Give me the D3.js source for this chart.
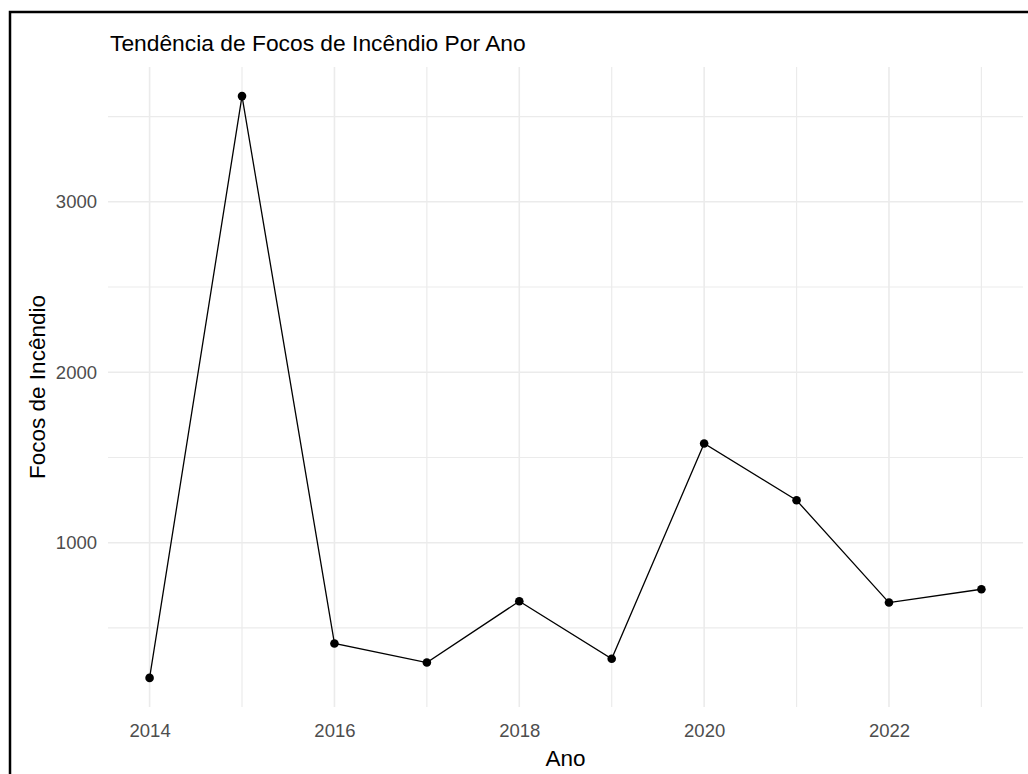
<!DOCTYPE html>
<html>
<head>
<meta charset="utf-8">
<script src="https://cdn.jsdelivr.net/npm/d3@7"></script>
<style>
  body { margin: 0; background: #fff; }
  svg { display: block; font-family: "Liberation Sans", Arial, sans-serif; }
</style>
</head>
<body>
<svg id="chart" width="1028" height="774"></svg>
<script>
// data
const anos = [2014, 2015, 2016, 2017, 2018, 2019, 2020, 2021, 2022, 2023];
const focos = [207, 3620, 409, 297, 657, 319, 1582, 1249, 649, 727];
const xMajor = [2014, 2016, 2018, 2020, 2022];
const xMinor = [2015, 2017, 2019, 2021, 2023];
const yMajor = [1000, 2000, 3000];
const yMinor = [500, 1500, 2500, 3500];

const svg = d3.select('#chart');
const panel = { left: 108, right: 1023, top: 67, bottom: 707 };

// ggplot style 5% expansion
const xExt = d3.extent(anos);
const yExt = d3.extent(focos);
const xPad = (xExt[1] - xExt[0]) * 0.05;
const yPad = (yExt[1] - yExt[0]) * 0.05;
const x = d3.scaleLinear().domain([xExt[0] - xPad, xExt[1] + xPad]).range([panel.left, panel.right]);
const y = d3.scaleLinear().domain([yExt[0] - yPad, yExt[1] + yPad]).range([panel.bottom, panel.top]);

// frame (only top and left edges are visible in the crop)
svg.append('path')
  .attr('d', 'M10,774 L10,12 L1028,12')
  .attr('fill', 'none').attr('stroke', '#000').attr('stroke-width', 2.5);

// grid
const grid = svg.append('g');
grid.selectAll('.ymin').data(yMinor).enter().append('line')
  .attr('x1', panel.left).attr('x2', panel.right)
  .attr('y1', d => y(d)).attr('y2', d => y(d))
  .attr('stroke', '#ebebeb').attr('stroke-width', 1.2);
grid.selectAll('.xmin').data(xMinor).enter().append('line')
  .attr('y1', panel.top).attr('y2', panel.bottom)
  .attr('x1', d => x(d)).attr('x2', d => x(d))
  .attr('stroke', '#ebebeb').attr('stroke-width', 1.2);
grid.selectAll('.ymaj').data(yMajor).enter().append('line')
  .attr('x1', panel.left).attr('x2', panel.right)
  .attr('y1', d => y(d)).attr('y2', d => y(d))
  .attr('stroke', '#ebebeb').attr('stroke-width', 1.6);
grid.selectAll('.xmaj').data(xMajor).enter().append('line')
  .attr('y1', panel.top).attr('y2', panel.bottom)
  .attr('x1', d => x(d)).attr('x2', d => x(d))
  .attr('stroke', '#ebebeb').attr('stroke-width', 1.6);

// axes (labels only, no lines)
const xAxis = svg.append('g')
  .attr('transform', 'translate(0,' + panel.bottom + ')')
  .call(d3.axisBottom(x).tickValues(xMajor).tickFormat(d3.format('d')).tickSize(0).tickPadding(17));
const yAxis = svg.append('g')
  .attr('transform', 'translate(' + panel.left + ',0)')
  .call(d3.axisLeft(y).tickValues(yMajor).tickFormat(d3.format('d')).tickSize(0).tickPadding(11));
[xAxis, yAxis].forEach(a => {
  a.select('.domain').remove();
  a.selectAll('text').attr('fill', '#4d4d4d').style('font-size', '18.5px')
    .style('font-family', '"Liberation Sans", Arial, sans-serif');
});

// line + points
const line = d3.line().x((d, i) => x(anos[i])).y(d => y(d));
svg.append('path').datum(focos)
  .attr('d', line).attr('fill', 'none').attr('stroke', '#000').attr('stroke-width', 1.3);
svg.selectAll('.pt').data(focos).enter().append('circle')
  .attr('cx', (d, i) => x(anos[i])).attr('cy', d => y(d)).attr('r', 4.3).attr('fill', '#000');

// titles
svg.append('text').attr('x', 110).attr('y', 51)
  .style('font-size', '22.8px').attr('fill', '#000')
  .text('Tendência de Focos de Incêndio Por Ano');
svg.append('text').attr('x', (panel.left + panel.right) / 2).attr('y', 766)
  .attr('text-anchor', 'middle').style('font-size', '22.5px').attr('fill', '#000')
  .text('Ano');
svg.append('text')
  .attr('transform', 'translate(45,' + (panel.top + panel.bottom) / 2 + ') rotate(-90)')
  .attr('text-anchor', 'middle').style('font-size', '22.5px').attr('fill', '#000')
  .text('Focos de Incêndio');
</script>
</body>
</html>
